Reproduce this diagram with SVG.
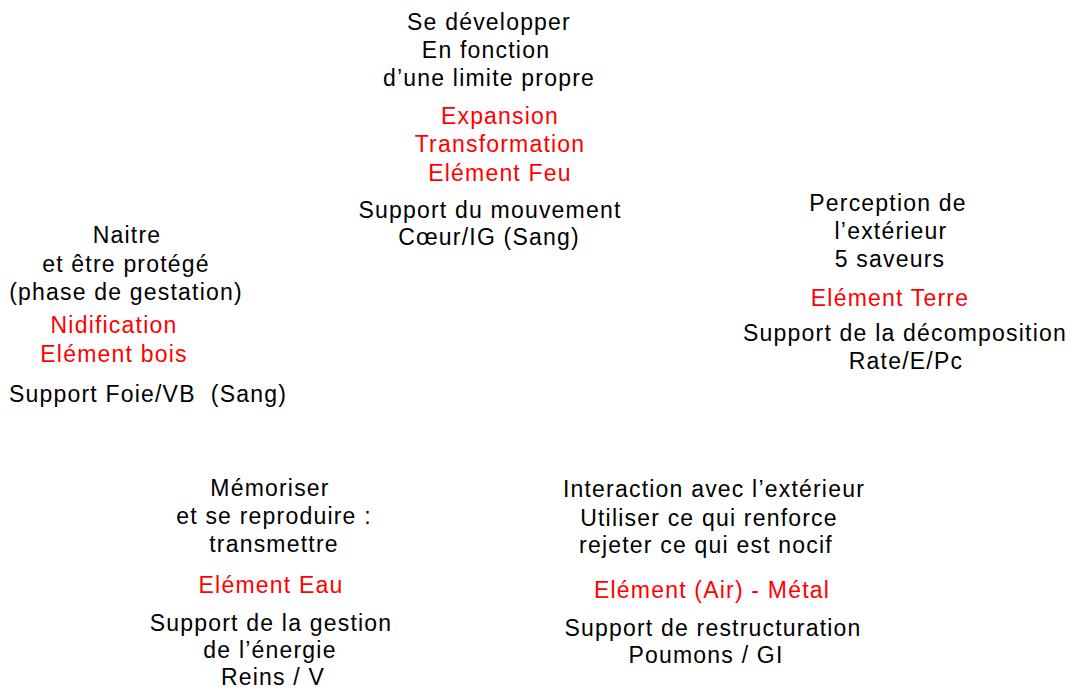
<svg xmlns="http://www.w3.org/2000/svg" width="1075" height="691" viewBox="0 0 1075 691">
<style>
text{font-family:"Liberation Sans",Arial,sans-serif;font-size:23px;letter-spacing:1.2px;text-anchor:middle;fill:#000}
.r{fill:#ff0000}
</style>
<rect width="1075" height="691" fill="#fff"/>
<g id="feu">
<text x="489" y="30">Se développer</text>
<text x="486" y="58">En fonction</text>
<text x="489" y="86">d’une limite propre</text>
<text class="r" x="500" y="124">Expansion</text>
<text class="r" x="500" y="152">Transformation</text>
<text class="r" x="500" y="181">Elément Feu</text>
<text x="490" y="218">Support du mouvement</text>
<text x="489" y="245">Cœur/IG (Sang)</text>
</g>
<g id="bois">
<text x="127" y="243">Naitre</text>
<text x="126" y="272">et être protégé</text>
<text x="126" y="300">(phase de gestation)</text>
<text class="r" x="114" y="333">Nidification</text>
<text class="r" x="114" y="362">Elément bois</text>
<text x="148" y="402" xml:space="preserve">Support Foie/VB  (Sang)</text>
</g>
<g id="terre">
<text x="888" y="211">Perception de</text>
<text x="891" y="239">l’extérieur</text>
<text x="890" y="267">5 saveurs</text>
<text class="r" x="890" y="306">Elément Terre</text>
<text x="905" y="341">Support de la décomposition</text>
<text x="906" y="369">Rate/E/Pc</text>
</g>
<g id="eau">
<text x="270" y="496">Mémoriser</text>
<text x="274" y="524">et se reproduire :</text>
<text x="274" y="552">transmettre</text>
<text class="r" x="271" y="593">Elément Eau</text>
<text x="271" y="631">Support de la gestion</text>
<text x="270" y="658">de l’énergie</text>
<text x="273" y="685">Reins / V</text>
</g>
<g id="metal">
<text x="714" y="497">Interaction avec l’extérieur</text>
<text x="709" y="526">Utiliser ce qui renforce</text>
<text x="706" y="553">rejeter ce qui est nocif</text>
<text class="r" x="712" y="598">Elément (Air) - Métal</text>
<text x="713" y="636">Support de restructuration</text>
<text x="706" y="663">Poumons / GI</text>
</g>
<g id="connectors"></g>
</svg>
